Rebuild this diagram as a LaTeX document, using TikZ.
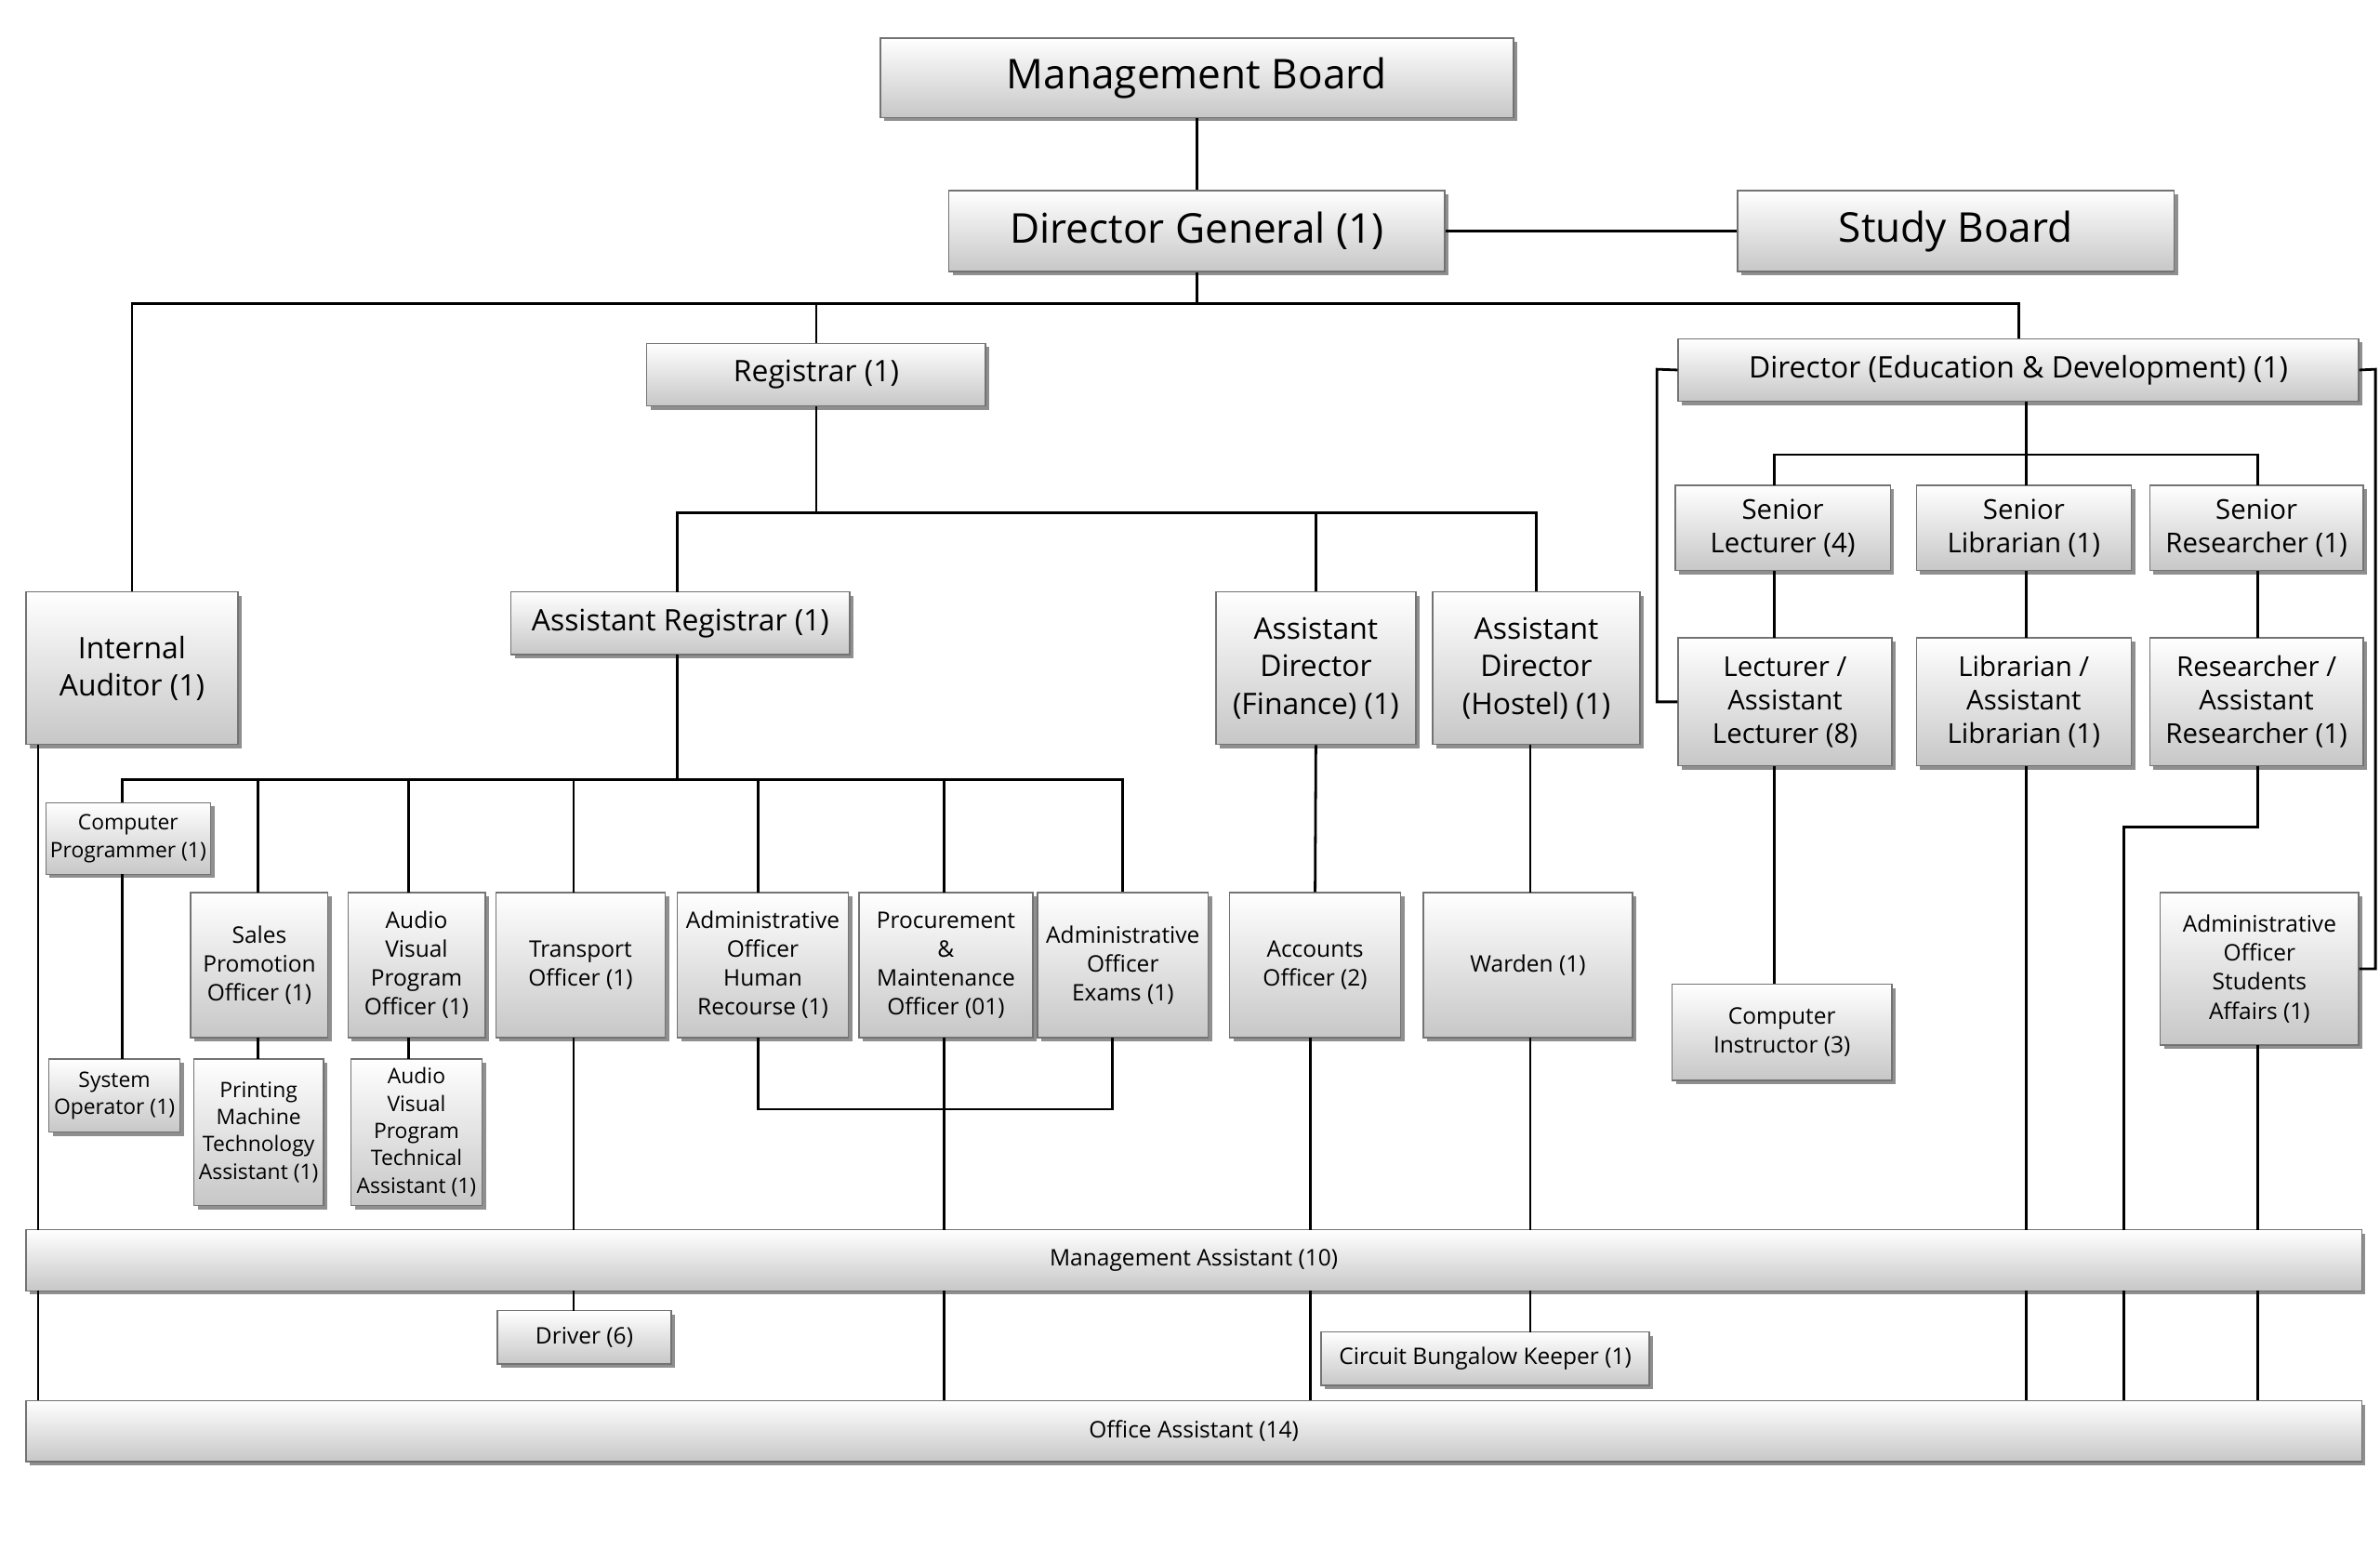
\documentclass[tikz,border=0pt]{standalone}
\usepackage{fontspec}
\setmainfont{Open Sans}
\usetikzlibrary{shadows}
\begin{document}
\begin{tikzpicture}[x=1bp,y=-1bp,
 box/.style={draw=black!55,line width=0.8bp,top color=white,bottom color=black!22,
   drop shadow={shadow xshift=2.5bp,shadow yshift=-2.5bp,fill=black!55,opacity=0.8},
   align=center,inner sep=0pt},
 fA/.style={font=\fontsize{27}{32}\selectfont},
 fB/.style={font=\fontsize{19.5}{24.5}\selectfont},
 fC/.style={font=\fontsize{18}{22}\selectfont},
 fD/.style={font=\fontsize{15}{19}\selectfont},
 fE/.style={font=\fontsize{14}{18}\selectfont},
 ln/.style={line width=1.7bp}]
\useasboundingbox[fill=white] (0,0) rectangle (1560,1015);
\newcommand\bx[7]{\node[box,#6,minimum width={(#4-#2)*1bp},minimum height={(#5-#3)*1bp}] (#1) at ({(#2+#4)/2},{(#3+#5)/2}) {#7};}
\bx{mb}{577}{25}{992}{77}{fA}{Management Board}
\bx{dg}{622}{125}{947}{178}{fA}{Director General (1)}
\bx{sb}{1139}{125}{1425}{178}{fA}{Study Board}
\bx{reg}{424}{225}{646}{266}{fB}{Registrar (1)}
\bx{ded}{1100}{222}{1546}{263}{fB}{Director (Education \& Development) (1)}
\bx{ia}{17}{388}{156}{488}{fB}{Internal\\Auditor (1)}
\bx{ar}{335}{388}{557}{429}{fB}{Assistant Registrar (1)}
\bx{adf}{797}{388}{928}{488}{fB}{Assistant\\Director\\(Finance) (1)}
\bx{adh}{939}{388}{1075}{488}{fB}{Assistant\\Director\\(Hostel) (1)}
\bx{sl}{1098}{318}{1239}{374}{fC}{Senior\\Lecturer (4)}
\bx{slib}{1256}{318}{1397}{374}{fC}{Senior\\Librarian (1)}
\bx{sr}{1409}{318}{1549}{374}{fC}{Senior\\Researcher (1)}
\bx{lec}{1100}{418}{1240}{502}{fC}{Lecturer /\\Assistant\\Lecturer (8)}
\bx{lib}{1256}{418}{1397}{502}{fC}{Librarian /\\Assistant\\Librarian (1)}
\bx{res}{1409}{418}{1549}{502}{fC}{Researcher /\\Assistant\\Researcher (1)}
\bx{cp}{30}{526}{138}{573}{fE}{Computer\\Programmer (1)}
\bx{spo}{125}{585}{215}{680}{fD}{Sales\\Promotion\\Officer (1)}
\bx{av}{228}{585}{318}{680}{fD}{Audio\\Visual\\Program\\Officer (1)}
\bx{to}{325}{585}{436}{680}{fD}{Transport\\Officer (1)}
\bx{hr}{444}{585}{556}{680}{fD}{Administrative\\Officer\\Human\\Recourse (1)}
\bx{pm}{563}{585}{677}{680}{fD}{Procurement\\\&\\Maintenance\\Officer (01)}
\bx{ex}{680}{585}{792}{680}{fD}{Administrative\\Officer\\Exams (1)}
\bx{acc}{806}{585}{918}{680}{fD}{Accounts\\Officer (2)}
\bx{war}{933}{585}{1070}{680}{fD}{Warden (1)}
\bx{ci}{1096}{645}{1240}{708}{fD}{Computer\\Instructor (3)}
\bx{aos}{1416}{585}{1546}{685}{fD}{Administrative\\Officer\\Students\\Affairs (1)}
\bx{so}{32}{694}{118}{742}{fE}{System\\Operator (1)}
\bx{pr}{127}{694}{212}{790}{fE}{Printing\\Machine\\Technology\\Assistant (1)}
\bx{avt}{230}{694}{316}{790}{fE}{Audio\\Visual\\Program\\Technical\\Assistant (1)}
\bx{ma}{17}{806}{1548}{846}{fD}{Management Assistant (10)}
\bx{dr}{326}{859}{440}{894}{fD}{Driver (6)}
\bx{cb}{866}{873}{1081}{908}{fD}{Circuit Bungalow Keeper (1)}
\bx{oa}{17}{918}{1548}{958}{fD}{Office Assistant (14)}
\begin{scope}[ln]
\draw (mb.south) -- (dg.north);
\draw (dg.east) -- (sb.west);
\draw (dg.south) -- (dg.south |- 0,199);
\draw (ia.north) |- (ded.north |- 0,199) -- (ded.north);
\draw (reg.north) -- (reg.north |- 0,199);
\coordinate (arn) at (444,388);
\draw (reg.south) -- (reg.south |- 0,336);
\draw (arn) |- (adh.north |- 0,336) -- (adh.north);
\draw (adf.north) -- (adf.north |- 0,336);
\draw (444,429) -- (444,511);
\coordinate (cpt) at (80,526);
\draw (cpt) |- (ex.north |- 0,511) -- (ex.north);
\foreach \n/\x in {spo/169,av/268,to/376,hr/497,pm/619}{\draw (\x,511) -- (\x,585);}
\draw (80,573) -- (80,694);
\draw (169,680) -- (169,694);
\draw (268,680) -- (268,694);
\draw (376,680) -- (376,806);
\draw (376,846) -- (376,859);
\draw (497,680) -- (497,727) -| (729,680);
\draw (619,680) -- (619,806); \draw (619,846) -- (619,918);
\draw (25,488) -- (25,806); \draw (25,846) -- (25,918);
\draw (adf.south) -- (acc.north);
\draw (859,680) -- (859,806); \draw (859,846) -- (859,918);
\draw (1003,488) -- (1003,585);
\draw (1003,680) -- (1003,806); \draw (1003,846) -- (1003,873);
\draw (1328,263) -- (1328,298);
\draw (1163,318) |- (1480,298) -- (1480,318);
\draw (1328,298) -- (1328,318);
\draw (1163,374) -- (1163,418);
\draw (1328,374) -- (1328,418);
\draw (1480,374) -- (1480,418);
\draw (1163,502) -- (1163,645);
\draw (1328,502) -- (1328,806); \draw (1328,846) -- (1328,918);
\draw (1480,502) -- (1480,542) -| (1392,806); \draw (1392,846) -- (1392,918);
\draw (ded.west) -- (1086,242) |- (lec.west);
\draw (ded.east) -- (1557,242) |- (aos.east);
\draw (1480,685) -- (1480,806); \draw (1480,846) -- (1480,918);
\end{scope}
\end{tikzpicture}
\end{document}
